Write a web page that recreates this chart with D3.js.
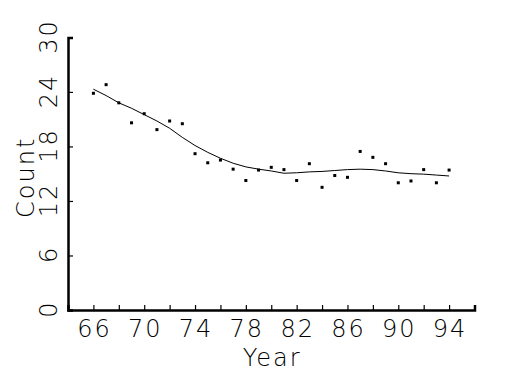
<!DOCTYPE html>
<html>
<head>
<meta charset="utf-8">
<script src="https://cdn.jsdelivr.net/npm/d3@7"></script>
<style>
  body { margin: 0; background: #fff; }
  text { font-family: "DejaVu Sans", sans-serif; font-weight: 200; fill: #000; letter-spacing: 2px; }
</style>
</head>
<body>
<div id="chart"></div>
<script>
// observed counts per year
const years = [66, 67, 68, 69, 70, 71, 72, 73, 74, 75, 76, 77, 78, 79, 80,
  81, 82, 83, 84, 85, 86, 87, 88, 89, 90, 91, 92, 93, 94];
const counts = [23.85, 24.8, 22.8, 20.6, 21.6, 19.85, 20.8, 20.5, 17.2, 16.2,
  16.5, 15.5, 14.25, 15.4, 15.7, 15.45, 14.25, 16.1, 13.5, 14.8, 14.6, 17.45,
  16.8, 16.1, 14.0, 14.2, 15.45, 14.0, 15.4];
// smoothed curve
const smooth = [24.3, 23.6, 22.8, 22.2, 21.5, 20.8, 20.0, 19.0, 18.1, 17.35,
  16.7, 16.15, 15.75, 15.5, 15.3, 15.05, 15.1, 15.2, 15.25, 15.35, 15.45, 15.5,
  15.45, 15.3, 15.1, 15.0, 14.95, 14.85, 14.75];

const xLabels = [66, 70, 74, 78, 82, 86, 90, 94];
const xTicks = d3.range(64, 97, 2);
const yTicks = [0, 6, 12, 18, 24, 30];

const W = 525, H = 375;
const svg = d3.select('#chart').append('svg')
  .attr('width', W)
  .attr('height', H);

// scales
const x = d3.scaleLinear().domain([64, 96]).range([68, 474.5]);
const y = d3.scaleLinear().domain([0, 30]).range([310, 37.4]);

// axes (ticks point inward)
const xAxis = svg.append('g')
  .attr('transform', `translate(0,${y(0)})`)
  .call(d3.axisBottom(x).tickValues(xTicks).tickSize(-5).tickFormat(''));
const yAxis = svg.append('g')
  .attr('transform', `translate(${x(64)},0)`)
  .call(d3.axisLeft(y).tickValues(yTicks).tickSize(-5).tickFormat(''));

[xAxis, yAxis].forEach(g => {
  g.select('.domain').attr('stroke', '#000').attr('stroke-width', 2.5);
  g.selectAll('.tick line').attr('stroke', '#000').attr('stroke-width', 1.2);
});

// tick labels
svg.append('g').selectAll('text')
  .data(xLabels)
  .join('text')
  .attr('x', d => x(d) + 1)
  .attr('y', 337)
  .attr('text-anchor', 'middle')
  .attr('font-size', 24)
  .text(d => d);

svg.append('g').selectAll('text')
  .data(yTicks)
  .join('text')
  .attr('transform', d => `translate(57,${y(d) - 1}) rotate(-90)`)
  .attr('text-anchor', 'middle')
  .attr('font-size', 24)
  .text(d => d);

// axis titles
svg.append('text')
  .attr('x', x(80) + 1)
  .attr('y', 366)
  .attr('text-anchor', 'middle')
  .attr('font-size', 24)
  .text('Year');

svg.append('text')
  .attr('transform', `translate(34,${y(14.6)}) rotate(-90)`)
  .attr('text-anchor', 'middle')
  .attr('font-size', 24)
  .text('Count');

// smooth line
const line = d3.line()
  .x((d, i) => x(years[i]))
  .y(d => y(d));

svg.append('path')
  .datum(smooth)
  .attr('d', line)
  .attr('fill', 'none')
  .attr('stroke', '#000')
  .attr('stroke-width', 1);

// points
svg.append('g').selectAll('rect')
  .data(counts)
  .join('rect')
  .attr('x', (d, i) => x(years[i]) - 1.5)
  .attr('y', d => y(d) - 1.5)
  .attr('width', 3)
  .attr('height', 3)
  .attr('fill', '#000');
</script>
</body>
</html>
